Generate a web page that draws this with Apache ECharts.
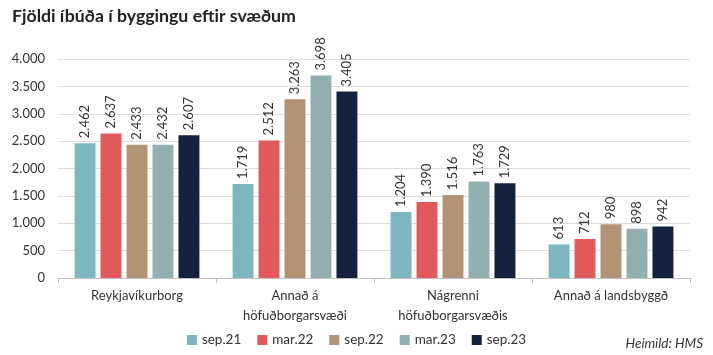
<!DOCTYPE html>
<html><head><meta charset="utf-8">
<script src="https://cdn.jsdelivr.net/npm/echarts@6/dist/echarts.min.js"></script>
<style>html,body{margin:0;padding:0;background:#fff}#c{width:713px;height:355px}</style>
</head><body><div id="c"></div>
<script>
const categories = ['Reykjavíkurborg', 'Annað á\nhöfuðborgarsvæði', 'Nágrenni\nhöfuðborgarsvæðis', 'Annað á landsbyggð'];
const seriesNames = ['sep.21', 'mar.22', 'sep.22', 'mar.23', 'sep.23'];
const sep21 = [2462, 1719, 1204, 613];
const mar22 = [2637, 2512, 1390, 712];
const sep22 = [2433, 3263, 1516, 980];
const mar23 = [2432, 3698, 1763, 898];
const sep23 = [2607, 3405, 1729, 942];
const seriesData = [sep21, mar22, sep22, mar23, sep23];
const colors = ['#7fb7c1', '#e05a5b', '#b39375', '#94afb1', '#14223f'];
const fmt = v => String(v).replace(/\B(?=(\d{3})+(?!\d))/g, '.');
const FONT = 'Lato';
const chart = echarts.init(document.getElementById('c'), null, {renderer: 'canvas'});
chart.setOption({
  animation: false,
  color: colors,
  textStyle: {fontFamily: FONT},
  title: [{
    text: 'Fjöldi íbúða í byggingu eftir svæðum',
    left: 7, top: 2,
    textStyle: {fontFamily: FONT, fontSize: 17.7, fontWeight: 'bold', color: '#222'}
  }, {
    text: 'Heimild: HMS',
    right: 5, top: 332,
    textStyle: {fontFamily: FONT, fontSize: 13.5, fontStyle: 'italic', fontWeight: 'normal', color: '#333'}
  }],
  legend: {
    data: seriesNames,
    bottom: 3, left: 'center',
    itemWidth: 10, itemHeight: 10, itemGap: 16,
    icon: 'rect',
    textStyle: {fontFamily: FONT, fontSize: 13.5, color: '#333'}
  },
  grid: {left: 58, right: 23, top: 59, bottom: 77},
  xAxis: {
    type: 'category',
    data: categories,
    axisLine: {lineStyle: {color: '#bfbfbf'}},
    axisTick: {show: true, alignWithLabel: false, length: 5, lineStyle: {color: '#bfbfbf'}},
    axisLabel: {fontFamily: FONT, fontSize: 13, color: '#333', lineHeight: 20, margin: 8}
  },
  yAxis: {
    type: 'value', min: 0, max: 4000, interval: 500,
    axisLine: {show: false}, axisTick: {show: false},
    splitLine: {lineStyle: {color: '#dcdcdc'}},
    axisLabel: {fontFamily: FONT, fontSize: 13, color: '#333', margin: 13, formatter: v => fmt(v)}
  },
  series: seriesNames.map((n, i) => ({
    name: n, type: 'bar',
    data: seriesData[i],
    barGap: '24%', barCategoryGap: '21%',
    label: {
      show: true, position: 'top', rotate: 90, align: 'left', verticalAlign: 'middle',
      distance: 5, fontFamily: FONT, fontSize: 13, color: '#333',
      formatter: p => fmt(p.value)
    }
  }))
});
</script></body></html>
